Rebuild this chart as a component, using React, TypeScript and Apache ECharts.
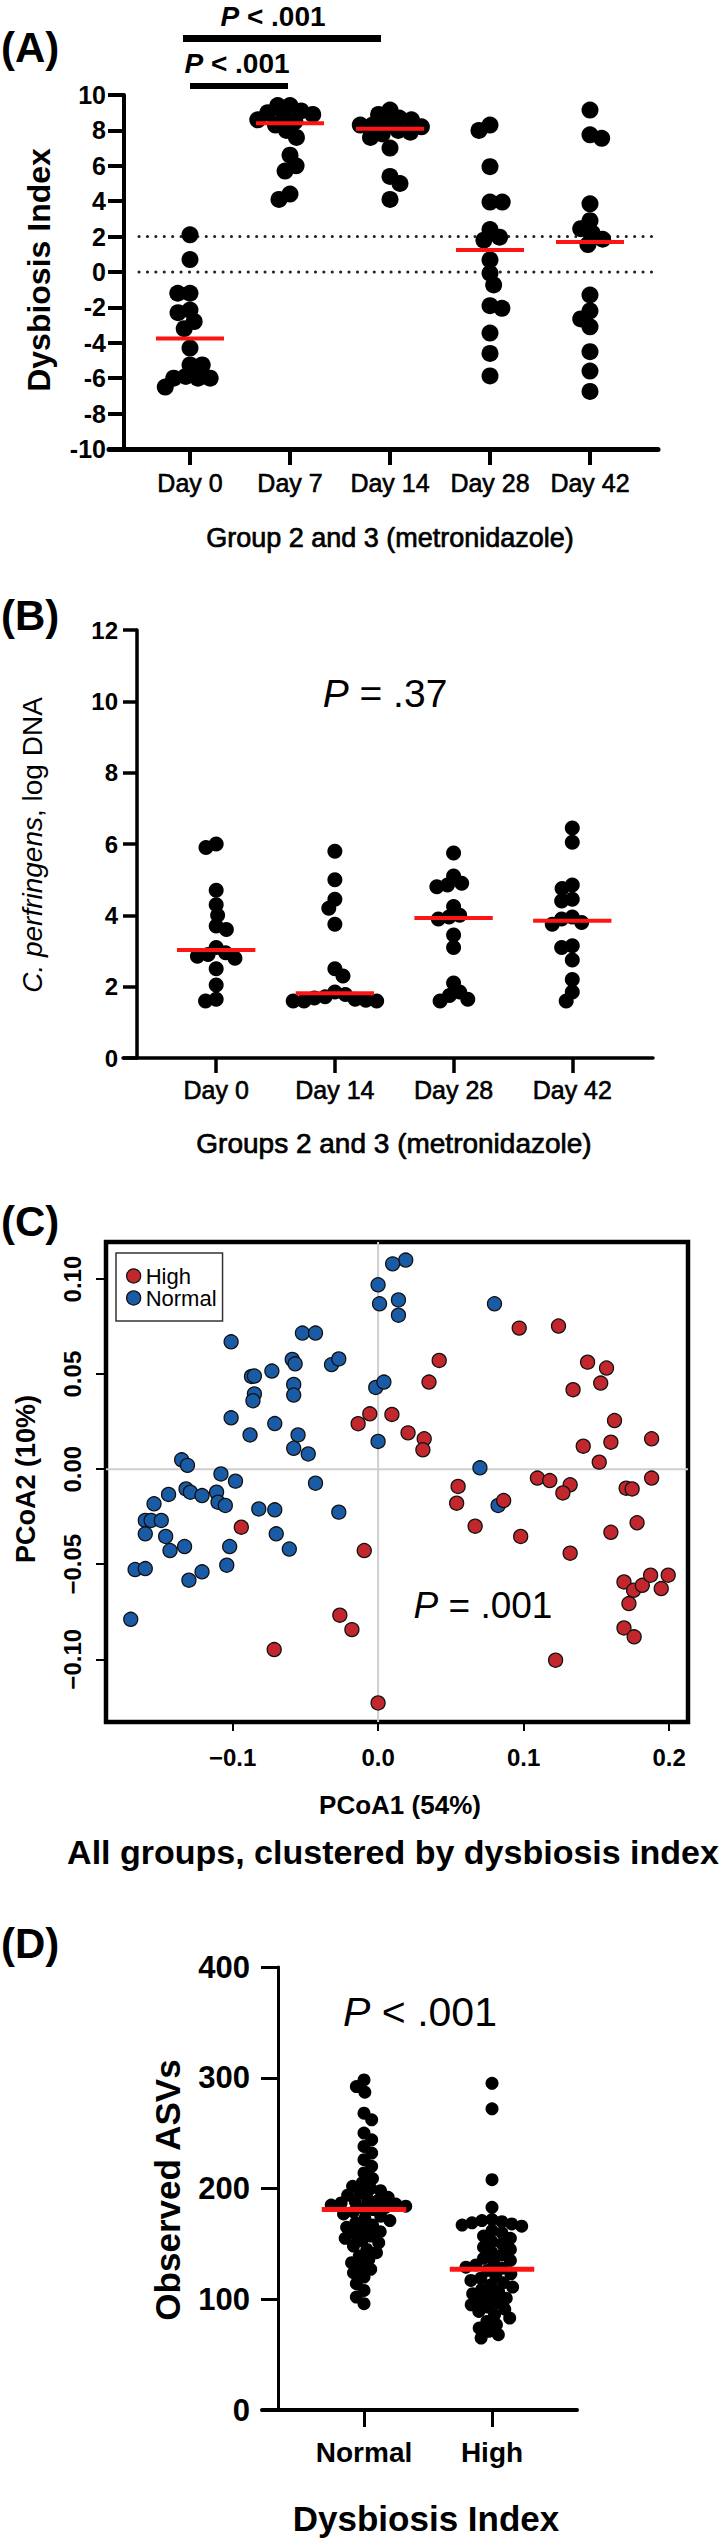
import React, { useEffect, useRef } from 'react';
import * as echarts from 'echarts';

// ---------- Panel A: Dysbiosis index ----------
const daysA = ['Day 0', 'Day 7', 'Day 14', 'Day 28', 'Day 42'];
const diDay0 = [2.1, 0.7, -1.2, -1.2, -2.15, -2.3, -2.8, -3.2, -4.3, -5.25, -5.25, -5.9, -6.0, -6.0, -6.0, -6.5];
const diDay7 = [9.4, 9.4, 9.1, 9.0, 8.9, 8.8, 8.6, 8.5, 8.3, 8.0, 7.6, 6.6, 6.0, 5.7, 4.4, 4.1];
const diDay14 = [9.15, 8.9, 8.7, 8.6, 8.4, 8.3, 8.3, 8.2, 8.0, 7.9, 7.8, 7.6, 7.0, 5.4, 5.0, 4.1];
const diDay28 = [8.3, 8.0, 5.95, 3.95, 3.95, 2.4, 1.97, 1.8, 0.68, -0.07, -0.73, -1.9, -2.05, -3.45, -4.6, -5.87];
const diDay42 = [9.15, 7.75, 7.55, 3.85, 2.9, 2.45, 2.2, 1.85, 1.55, -1.3, -2.2, -2.65, -3.1, -4.5, -5.6, -6.75];
const diRefLines = [2, 0];

// ---------- Panel B: C. perfringens ----------
const daysB = ['Day 0', 'Day 14', 'Day 28', 'Day 42'];
const cpDay0 = [6.0, 5.9, 4.7, 4.3, 4.0, 3.7, 3.6, 3.1, 2.95, 2.9, 2.85, 2.8, 2.5, 2.05, 1.65, 1.6];
const cpDay14 = [5.8, 5.0, 4.45, 4.2, 3.75, 2.5, 2.3, 1.85, 1.78, 1.72, 1.68, 1.65, 1.62, 1.6, 1.6, 1.6];
const cpDay28 = [5.75, 5.1, 4.9, 4.85, 4.8, 4.25, 4.0, 3.95, 3.9, 3.45, 3.1, 2.1, 1.85, 1.75, 1.65, 1.6];
const cpDay42 = [6.45, 6.05, 4.85, 4.75, 4.45, 4.4, 3.95, 3.9, 3.8, 3.75, 3.15, 3.1, 2.75, 2.2, 1.85, 1.6];

// ---------- Panel C: PCoA ----------
const highPts = [
  [0.097, 0.0742], [0.124, 0.0753], [0.042, 0.0572], [0.035, 0.0458], [0.144, 0.0563], [0.157, 0.0532],
  [0.153, 0.0453], [0.134, 0.0418], [-0.0137, 0.0239], [-0.0057, 0.0291], [0.0095, 0.0288], [0.0206, 0.0191],
  [0.0317, 0.016], [0.0308, 0.0102], [0.1625, 0.0256], [0.141, 0.0121], [0.16, 0.0142], [0.152, 0.0037],
  [0.188, 0.016], [0.188, -0.0047], [0.055, -0.0091], [0.054, -0.0179], [0.1095, -0.0047], [0.118, -0.006],
  [0.132, -0.0082], [0.127, -0.0125], [0.1705, -0.01], [0.1746, -0.0104], [0.0863, -0.0165], [-0.094, -0.0305],
  [0.0667, -0.03], [0.098, -0.0354], [0.16, -0.0332], [0.178, -0.0282], [-0.0095, -0.0428], [0.132, -0.0442],
  [0.169, -0.0593], [0.1756, -0.0637], [0.1816, -0.0611], [0.1873, -0.0558], [0.1946, -0.0628], [0.1994, -0.0558],
  [0.1724, -0.0707], [0.169, -0.0835], [0.176, -0.0882], [-0.0263, -0.0768], [-0.018, -0.0844], [-0.0714, -0.0949],
  [0.122, -0.1005], [0.0, -0.123],
];
const normalPts = [
  [0.019, 0.11], [0.01, 0.108], [0.0, 0.097], [0.001, 0.087], [0.014, 0.089], [0.014, 0.081], [0.08, 0.087],
  [-0.052, 0.0716], [-0.043, 0.0716], [-0.101, 0.067], [-0.059, 0.0577], [-0.057, 0.0554], [-0.032, 0.055],
  [-0.027, 0.058], [-0.087, 0.0488], [-0.085, 0.049], [-0.073, 0.0516], [-0.058, 0.0446], [-0.058, 0.039],
  [-0.085, 0.0396], [-0.086, 0.036], [-0.0016, 0.043], [0.004, 0.0458], [-0.101, 0.027], [-0.071, 0.024],
  [-0.088, 0.018], [-0.055, 0.018], [-0.058, 0.011], [-0.048, 0.008], [0.0, 0.0146], [0.07, 0.0007],
  [-0.135, 0.0049], [-0.131, 0.002], [-0.108, -0.0025], [-0.098, -0.0063], [-0.043, -0.0074], [-0.144, -0.0133],
  [-0.132, -0.0104], [-0.129, -0.0121], [-0.121, -0.0139], [-0.111, -0.0121], [-0.11, -0.0174], [-0.105, -0.0191],
  [-0.154, -0.0182], [-0.082, -0.0209], [-0.071, -0.0214], [-0.027, -0.0226], [0.0825, -0.0191], [-0.16, -0.027],
  [-0.156, -0.027], [-0.149, -0.027], [-0.16, -0.034], [-0.146, -0.0354], [-0.133, -0.0407], [-0.07, -0.034],
  [-0.102, -0.0407], [-0.143, -0.0428], [-0.061, -0.042], [-0.167, -0.0528], [-0.16, -0.0523], [-0.13, -0.0584],
  [-0.121, -0.054], [-0.104, -0.0505], [-0.17, -0.079],
];
const pcoaXTicks = [-0.1, 0, 0.1, 0.2];
const pcoaYTicks = [-0.1, -0.05, 0, 0.05, 0.1];

// ---------- Panel D: Observed ASVs ----------
const groupsD = ['Normal', 'High'];
const asvNormal = [298, 292, 287, 268, 262, 250, 244, 238, 232, 226, 220, 214, 209, 205, 202, 200, 198, 196, 194,
  192, 190, 189, 188, 187, 186, 185, 184, 183, 182, 181, 179, 177, 175, 173, 171, 169, 167, 165, 163, 161, 159,
  157, 155, 153, 151, 148, 145, 142, 139, 136, 133, 130, 127, 124, 120, 114, 108, 102, 96];
const asvHigh = [295, 272, 208, 183, 172, 171, 170, 169, 168, 167, 166, 162, 160, 157, 155, 152, 150, 147, 145,
  142, 140, 137, 135, 133, 131, 129, 128, 126, 123, 121, 119, 117, 115, 113, 111, 109, 107, 105, 103, 101, 99,
  97, 95, 93, 91, 89, 86, 83, 80, 77, 74, 71, 68, 65];

const FF = '"Liberation Sans", Arial, Helvetica, sans-serif';
const RED = '#ff1414';

function median(a: number[]) {
  const s = [...a].sort((x, y) => x - y);
  const n = s.length;
  return n % 2 ? s[(n - 1) / 2] : (s[n / 2 - 1] + s[n / 2]) / 2;
}

// beeswarm layout in pixel space, returns x offsets in axis units
function swarm(values: number[], diam: number, pyu: number, pxu: number): number[] {
  const idx = values.map((_, i) => i).sort((a, b) => values[b] - values[a]);
  const placed: { x: number; y: number }[] = [];
  const out = new Array(values.length).fill(0);
  idx.forEach((i, k) => {
    const y = values[i] * pyu;
    const cands: number[] = [0];
    for (const p of placed) {
      const dy = Math.abs(p.y - y);
      if (dy < diam) {
        const dx = Math.sqrt(diam * diam - dy * dy);
        cands.push(p.x + dx, p.x - dx);
      }
    }
    const flip = k % 2 === 0;
    cands.sort((a, b) => {
      const d = Math.abs(a) - Math.abs(b);
      if (Math.abs(d) > 1e-6) return d;
      return flip ? b - a : a - b;
    });
    let chosen = 0;
    for (const c of cands) {
      if (placed.every((p) => (p.x - c) ** 2 + (p.y - y) ** 2 >= diam * diam - 1e-3)) {
        chosen = c;
        break;
      }
    }
    placed.push({ x: chosen, y });
    out[i] = chosen / pxu;
  });
  return out;
}

function buildDots(groups: number[][], diam: number, pyu: number, pxu: number) {
  const out: number[][] = [];
  groups.forEach((vals, i) => {
    const off = swarm(vals, diam, pyu, pxu);
    vals.forEach((v, j) => out.push([i + off[j], v]));
  });
  return out;
}

function medianSeries(xi: number, groups: number[][], hw: number, w: number) {
  return {
    type: 'custom', xAxisIndex: xi, yAxisIndex: xi, z: 6, silent: true,
    data: groups.map((g, i) => [i, median(g)]),
    encode: { x: 0, y: 1 },
    renderItem: (_p: any, api: any) => {
      const c = api.value(0);
      const m = api.value(1);
      const a = api.coord([c - hw, m]);
      const b = api.coord([c + hw, m]);
      return { type: 'line', shape: { x1: a[0], y1: a[1], x2: b[0], y2: b[1] }, style: { stroke: RED, lineWidth: w } };
    },
  };
}

function label(text: string, x: number, y: number, size: number, weight = 'normal', rotation = 0, align = 'center', rich?: any, strokeW = 0) {
  const st: any = {
    text, fill: '#000', fontSize: size, fontWeight: weight, fontFamily: FF,
    align, verticalAlign: 'middle', textAlign: align, textVerticalAlign: 'middle', rich,
  };
  if (strokeW > 0) { st.stroke = '#000'; st.lineWidth = strokeW; }
  return { type: 'text', x, y, rotation, z: 20, silent: true, style: st };
}

function pText(rest: string, x: number, y: number, size: number, weight = 'normal') {
  const base = { fontSize: size, fontWeight: weight, fontFamily: FF, fill: '#000', color: '#000' };
  return label(`{i|P}{n|${rest}}`, x, y, size, weight, 0, 'center', { i: { ...base, fontStyle: 'italic' }, n: base });
}

// grid geometry
const GA = { left: 109, top: 95, width: 549, height: 354 };
const XA: [number, number] = [-0.81, 4.68];
const YA: [number, number] = [-10, 10];
const GB = { left: 123, top: 630, width: 530, height: 428 };
const XB: [number, number] = [-0.785, 3.68];
const YB: [number, number] = [0, 12];
const GC = { left: 106, top: 1242, width: 582, height: 480 };
const XC: [number, number] = [-0.187, 0.213];
const YC: [number, number] = [-0.133, 0.1195];
const GD = { left: 262, top: 1967, width: 315, height: 443 };
const XD: [number, number] = [-0.797, 1.664];
const YD: [number, number] = [0, 400];

const minus = (s: string) => s.replace('-', '\u2212');

export default function App() {
  const ref = useRef<HTMLDivElement>(null);
  useEffect(() => {
    if (!ref.current) return;
    const chart = echarts.init(ref.current, undefined, { renderer: 'svg' });

    const groupsA = [diDay0, diDay7, diDay14, diDay28, diDay42];
    const groupsB = [cpDay0, cpDay14, cpDay28, cpDay42];
    const groupsDv = [asvNormal, asvHigh];
    const dotsA = buildDots(groupsA, 17 * 0.72, GA.height / (YA[1] - YA[0]), GA.width / (XA[1] - XA[0]));
    const dotsB = buildDots(groupsB, 15 * 0.72, GB.height / (YB[1] - YB[0]), GB.width / (XB[1] - XB[0]));
    const dotsD = buildDots(groupsDv, 13 * 0.78, GD.height / (YD[1] - YD[0]), GD.width / (XD[1] - XD[0]));

    const catAxis = (gi: number, range: [number, number], names: string[], o: any) => ({
      gridIndex: gi, type: 'value', min: range[0], max: range[1],
      axisLine: { show: true, onZero: false, lineStyle: { color: '#000', width: o.lw } },
      axisTick: { show: true, customValues: names.map((_, i) => i), length: o.tl, lineStyle: { color: '#000', width: o.tw } },
      axisLabel: {
        show: true, customValues: names.map((_, i) => i), formatter: (v: number) => names[Math.round(v)] ?? '',
        fontSize: o.fs, fontWeight: o.fw, fontFamily: FF, color: '#000', margin: o.m,
        textBorderColor: '#000', textBorderWidth: o.sw || 0,
      },
      splitLine: { show: false },
    });
    const valAxis = (gi: number, range: [number, number], interval: number, o: any) => ({
      gridIndex: gi, type: 'value', min: range[0], max: range[1], interval, offset: o.off,
      axisLine: { show: true, onZero: false, lineStyle: { color: '#000', width: o.lw } },
      axisTick: { show: true, length: o.tl, lineStyle: { color: '#000', width: o.tw } },
      axisLabel: { fontSize: o.fs, fontWeight: 'bold', fontFamily: FF, color: '#000', margin: o.m },
      splitLine: { show: false },
    });

    const option: any = {
      animation: false,
      backgroundColor: '#fff',
      grid: [
        { ...GA, outerBoundsMode: 'none' },
        { ...GB, outerBoundsMode: 'none' },
        { ...GC, show: true, borderColor: '#000', borderWidth: 4.5, backgroundColor: 'transparent', outerBoundsMode: 'none' },
        { ...GD, outerBoundsMode: 'none' },
      ],
      xAxis: [
        catAxis(0, XA, daysA, { lw: 5, tl: 16, tw: 4, fs: 25, fw: 'normal', m: 21, sw: 0.6 }),
        catAxis(1, XB, daysB, { lw: 3.5, tl: 15, tw: 3.5, fs: 25, fw: 'normal', m: 19, sw: 0.6 }),
        {
          gridIndex: 2, type: 'value', min: XC[0], max: XC[1],
          axisLine: { show: false, onZero: false },
          axisTick: { show: true, customValues: pcoaXTicks, length: 9, lineStyle: { color: '#000', width: 2 } },
          axisLabel: {
            customValues: pcoaXTicks, formatter: (v: number) => minus(v.toFixed(1)),
            fontSize: 24, fontWeight: 'bold', fontFamily: FF, color: '#000', margin: 23,
          },
          splitLine: { show: false },
        },
        catAxis(3, XD, groupsD, { lw: 4, tl: 17, tw: 3, fs: 28, fw: 'bold', m: 28 }),
      ],
      yAxis: [
        valAxis(0, YA, 2, { off: -15, lw: 4, tl: 16, tw: 4, fs: 25, m: 18 }),
        valAxis(1, YB, 2, { off: -14, lw: 3.5, tl: 14, tw: 3.5, fs: 24, m: 19 }),
        {
          gridIndex: 2, type: 'value', min: YC[0], max: YC[1],
          axisLine: { show: false, onZero: false },
          axisTick: { show: true, customValues: pcoaYTicks, length: 10, lineStyle: { color: '#000', width: 2 } },
          axisLabel: {
            customValues: pcoaYTicks, rotate: 90, formatter: (v: number) => minus(v.toFixed(2)),
            fontSize: 24, fontWeight: 'bold', fontFamily: FF, color: '#000', margin: 22,
          },
          splitLine: { show: false },
        },
        valAxis(3, YD, 100, { off: -16, lw: 3, tl: 17, tw: 3, fs: 31, m: 28 }),
      ],
      legend: {
        data: ['High', 'Normal'], left: 116, top: 1253, orient: 'vertical',
        itemWidth: 14, itemHeight: 14, itemGap: 0, itemTextGap: 5, icon: 'circle',
        padding: [12, 6, 12, 10], borderColor: '#333', borderWidth: 1.5, backgroundColor: '#fff',
        textStyle: { fontSize: 22, fontFamily: FF, color: '#000' },
        itemStyle: { borderColor: '#111', borderWidth: 1.3, opacity: 1 },
        selectedMode: false,
      },
      series: [
        {
          type: 'custom', xAxisIndex: 0, yAxisIndex: 0, z: 1, silent: true,
          data: diRefLines.map((v) => [0, v]), encode: { x: 0, y: 1 },
          renderItem: (params: any, api: any) => {
            const cs = params.coordSys;
            const p = api.coord([0, api.value(1)]);
            return {
              type: 'line', shape: { x1: cs.x + 30, y1: p[1], x2: cs.x + cs.width - 2, y2: p[1] },
              style: { stroke: '#222', lineWidth: 3, lineDash: [0.1, 8.3], lineCap: 'round' },
            };
          },
        },
        { name: 'A', type: 'scatter', xAxisIndex: 0, yAxisIndex: 0, symbolSize: 17, z: 3, silent: true, itemStyle: { color: '#000', opacity: 1 }, data: dotsA },
        medianSeries(0, groupsA, 0.34, 4),
        { name: 'B', type: 'scatter', xAxisIndex: 1, yAxisIndex: 1, symbolSize: 15, z: 3, silent: true, itemStyle: { color: '#000', opacity: 1 }, data: dotsB },
        medianSeries(1, groupsB, 0.33, 4),
        {
          type: 'custom', xAxisIndex: 2, yAxisIndex: 2, z: 1, silent: true, data: [[0, 0]], encode: { x: 0, y: 1 },
          renderItem: (params: any, api: any) => {
            const cs = params.coordSys;
            const p = api.coord([0, 0]);
            const st = { stroke: '#cfcfcf', lineWidth: 2 };
            return {
              type: 'group', children: [
                { type: 'line', shape: { x1: p[0], y1: cs.y, x2: p[0], y2: cs.y + cs.height }, style: st },
                { type: 'line', shape: { x1: cs.x, y1: p[1], x2: cs.x + cs.width, y2: p[1] }, style: st },
              ],
            };
          },
        },
        {
          name: 'Normal', type: 'scatter', xAxisIndex: 2, yAxisIndex: 2, symbolSize: 14, z: 3, silent: true,
          itemStyle: { color: '#1a5ba6', borderColor: '#111', borderWidth: 1.3, opacity: 1 }, data: normalPts,
        },
        {
          name: 'High', type: 'scatter', xAxisIndex: 2, yAxisIndex: 2, symbolSize: 14, z: 4, silent: true,
          itemStyle: { color: '#c1272d', borderColor: '#111', borderWidth: 1.3, opacity: 1 }, data: highPts,
        },
        { name: 'D', type: 'scatter', xAxisIndex: 3, yAxisIndex: 3, symbolSize: 13, z: 3, silent: true, itemStyle: { color: '#000', opacity: 1 }, data: dotsD },
        medianSeries(3, groupsDv, 0.33, 5),
      ],
      graphic: [
        label('(A)', 1, 47, 42, 'bold', 0, 'left'),
        pText(' < .001', 273, 16, 28, 'bold'),
        { type: 'rect', shape: { x: 183, y: 35, width: 198, height: 7 }, style: { fill: '#000' }, silent: true },
        pText(' < .001', 237, 63, 28, 'bold'),
        { type: 'rect', shape: { x: 190, y: 83, width: 98, height: 6 }, style: { fill: '#000' }, silent: true },
        label('Dysbiosis Index', 39, 270, 32, 'bold', Math.PI / 2),
        label('Group 2 and 3 (metronidazole)', 390, 538, 27, 'normal', 0, 'center', undefined, 0.7),

        label('(B)', 1, 615, 42, 'bold', 0, 'left'),
        pText(' = .37', 385, 693, 39),
        label('{i|C. perfringens}{n|, log DNA}', 32, 845, 28, 'normal', Math.PI / 2, 'center', {
          i: { fontSize: 28, fontFamily: FF, fontStyle: 'italic', fill: '#000', color: '#000' },
          n: { fontSize: 28, fontFamily: FF, fill: '#000', color: '#000' },
        }),
        label('Groups 2 and 3 (metronidazole)', 394, 1143, 28, 'normal', 0, 'center', undefined, 0.7),

        label('(C)', 1, 1221, 42, 'bold', 0, 'left'),
        label('PCoA2 (10%)', 26, 1479, 27, 'bold', Math.PI / 2),
        pText(' = .001', 483, 1605, 37),
        label('PCoA1 (54%)', 400, 1805, 26, 'bold'),
        label('All groups, clustered by dysbiosis index', 393, 1852, 34, 'bold'),

        label('(D)', 1, 1943, 42, 'bold', 0, 'left'),
        pText(' < .001', 420, 2012, 41),
        label('Observed ASVs', 167, 2190, 35, 'bold', Math.PI / 2),
        label('Dysbiosis Index', 426, 2518, 35, 'bold'),
      ],
    };

    chart.setOption(option);
    return () => chart.dispose();
  }, []);

  return (
    <div
      ref={ref}
      style={{ position: 'absolute', left: 0, top: 0, width: 723, height: 2543, background: '#fff' }}
    />
  );
}
